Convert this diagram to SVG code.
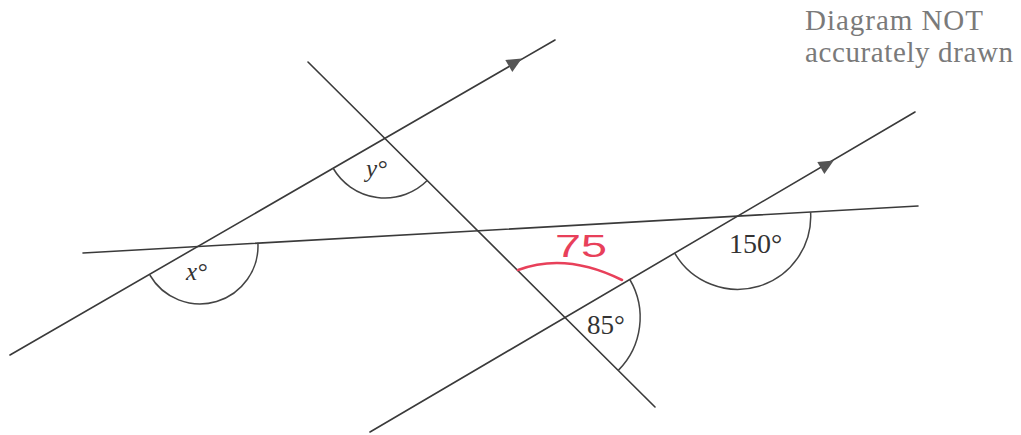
<svg xmlns="http://www.w3.org/2000/svg" xmlns:xlink="http://www.w3.org/1999/xlink" width="1021" height="435" viewBox="0 0 1021 435">
<style>
.ln{stroke:#3a3a3a;stroke-width:1.6;fill:none;stroke-linecap:round}
.arc{stroke:#444;stroke-width:1.5;fill:none}
.red{stroke:#e8405a;stroke-width:2.6;fill:none;stroke-linecap:round}
.lbl{font-family:"Liberation Serif",serif;fill:#333}
.it{font-style:italic}
.note{font-family:"Liberation Serif",serif;fill:#7a7a7a;font-size:29px}
.ah{fill:#555}
</style>
<defs>
<path id="arrowhead" d="M9,0 L-6,-7 L-6,7 Z"/>
</defs>
<rect width="1021" height="435" fill="#ffffff"/>
<g id="connectors">
<line id="parallel1" class="ln" x1="10" y1="355" x2="555" y2="40"/>
<line id="parallel2" class="ln" x1="370" y1="432" x2="915" y2="112"/>
<line id="crossline" class="ln" x1="83" y1="253" x2="918" y2="206"/>
<line id="transversal" class="ln" x1="308" y1="62" x2="655" y2="407"/>
<use href="#arrowhead" class="ah" transform="translate(514,63) rotate(-30)"/>
<use href="#arrowhead" class="ah" transform="translate(826,165) rotate(-30.4)"/>
</g>
<g id="angle-y">
<path class="arc" d="M427.5,180.3 A60,60 0 0 1 333,168"/>
<text class="lbl it" x="366" y="177" font-size="25">y°</text>
</g>
<g id="angle-x">
<path class="arc" d="M257.9,242.7 A58,58 0 0 1 149.8,275"/>
<text class="lbl it" x="186" y="280" font-size="25">x°</text>
</g>
<g id="angle-150">
<path class="arc" d="M810.6,212.1 A73,73 0 0 1 674.7,253.2"/>
<text class="lbl" x="729" y="253" font-size="28">150°</text>
</g>
<g id="angle-85">
<path class="arc" d="M629.8,279.5 A75,75 0 0 1 618.3,370.4"/>
<text class="lbl" x="587" y="334" font-size="27">85°</text>
</g>
<g id="angle-75">
<path class="red" d="M518,270 Q566,252 622,280"/>
<text x="555" y="257" font-family="Liberation Sans, sans-serif" font-size="32" fill="#e8405a" textLength="52" lengthAdjust="spacingAndGlyphs">75</text>
</g>
<g id="note">
<text class="note" x="805" y="30" textLength="178" lengthAdjust="spacing">Diagram NOT</text>
<text class="note" x="805" y="62" textLength="208" lengthAdjust="spacing">accurately drawn</text>
</g>
</svg>
